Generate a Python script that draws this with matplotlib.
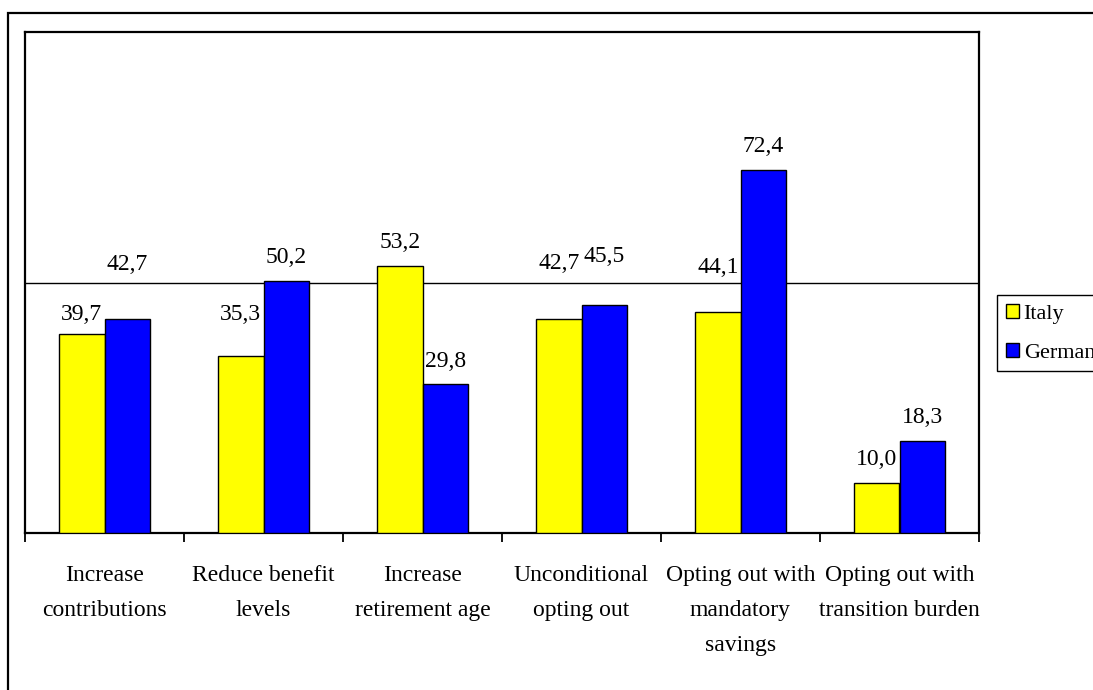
import matplotlib
matplotlib.use("Agg")
import matplotlib.pyplot as plt
from matplotlib.patches import Rectangle
import numpy as np

# Survey results: share of respondents accepting each reform option (%)
categories = [
    "Increase\ncontributions",
    "Reduce benefit\nlevels",
    "Increase\nretirement age",
    "Unconditional\nopting out",
    "Opting out with\nmandatory\nsavings",
    "Opting out with\ntransition burden",
]
series_names = ["Italy", "Germany"]
italy = [39.7, 35.3, 53.2, 42.7, 44.1, 10.0]
germany = [42.7, 50.2, 29.8, 45.5, 72.4, 18.3]

# Vertical offsets (points) of each value label above its bar top
italy_label_offset = [14, 30, 17, 40, 32, 17]
germany_label_offset = [39, 17, 16, 35, 17, 17]

colors = ["#FFFF00", "#0000FF"]
FONT = "Liberation Serif"

W, H = 1093, 690
fig = plt.figure(figsize=(W / 100, H / 100), dpi=100)
fig.patch.set_facecolor("white")

# outer chart border (runs past the right and bottom edges)
fig.add_artist(Rectangle((8 / W, -0.2), 1.5, 1 - 13 / H + 0.2,
                         transform=fig.transFigure, fill=False,
                         edgecolor="black", linewidth=1.6, zorder=0))

left, right, top, bottom = 25, 979, 32, 533
ax = fig.add_axes([left / W, 1 - bottom / H, (right - left) / W, (bottom - top) / H])

x = np.arange(len(categories))
width = 1 / 3.5
bars_it = ax.bar(x - width / 2, italy, width, color=colors[0], edgecolor="black",
                 linewidth=1.0, label=series_names[0], zorder=3)
bars_de = ax.bar(x + width / 2, germany, width, color=colors[1], edgecolor="black",
                 linewidth=1.0, label=series_names[1], zorder=3)

def fmt(v):
    return f"{v:.1f}".replace(".", ",")

for bars, vals, offs in ((bars_it, italy, italy_label_offset),
                         (bars_de, germany, germany_label_offset)):
    for b, v, o in zip(bars, vals, offs):
        ax.annotate(fmt(v), (b.get_x() + b.get_width() / 2, v),
                    xytext=(0, o), textcoords="offset points",
                    ha="center", va="center", fontsize=17, family=FONT,
                    color="black", zorder=4)

ax.set_xlim(-0.5, len(categories) - 0.5)
ax.set_ylim(0, 100)

# single gridline at 50
ax.set_yticks([50])
ax.yaxis.grid(True, color="black", linewidth=1.0)
ax.set_axisbelow(True)
ax.tick_params(axis="y", left=False, labelleft=False)

# ticks on category boundaries, labels at category centres
ax.set_xticks(np.arange(len(categories) + 1) - 0.5)
ax.set_xticklabels([])
ax.tick_params(axis="x", which="major", direction="out", length=6.5, width=1.3,
               color="black")
ax.set_xticks(x, minor=True)
ax.set_xticklabels(categories, minor=True, fontsize=17, family=FONT,
                   linespacing=1.87, va="top")
ax.tick_params(axis="x", which="minor", length=0, pad=23)

for s in ax.spines.values():
    s.set_linewidth(1.6)
    s.set_color("black")

leg = fig.legend(handles=[bars_it, bars_de], labels=series_names,
                 loc="upper left", bbox_to_anchor=(997 / W, 1 - 295 / H),
                 prop={"family": FONT, "size": 16}, frameon=True, fancybox=False,
                 framealpha=1, edgecolor="black", handlelength=0.6,
                 handleheight=0.6, handletextpad=0.2, labelspacing=0.85,
                 borderpad=0.4, borderaxespad=0)
leg.get_frame().set_linewidth(1.0)

fig.savefig("out.png", dpi=100, facecolor="white")
